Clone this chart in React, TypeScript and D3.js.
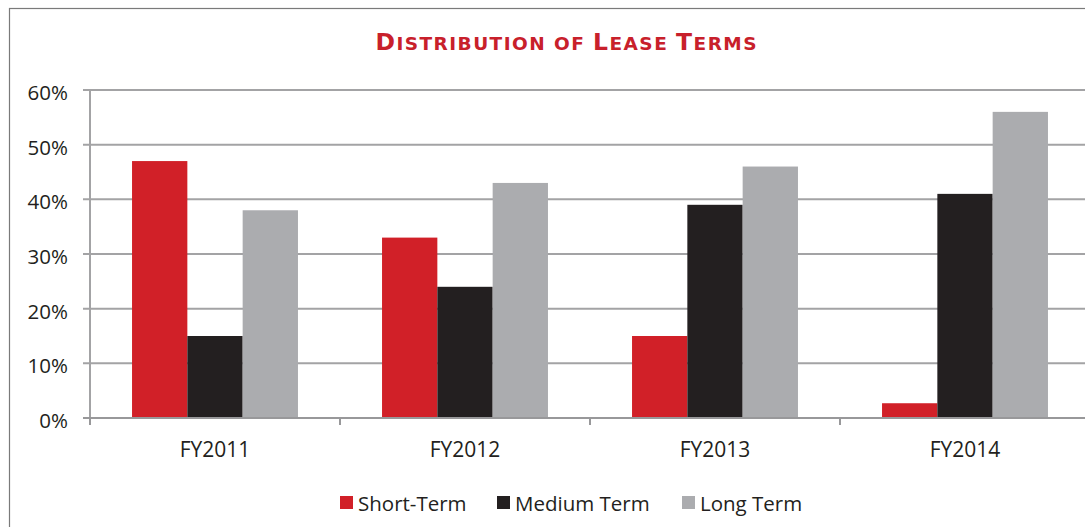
import * as d3 from "d3";

const categories = ["FY2011", "FY2012", "FY2013", "FY2014"];
const seriesNames = ["Short-Term", "Medium Term", "Long Term"];
const shortTerm = [0.47, 0.33, 0.15, 0.027];
const mediumTerm = [0.15, 0.24, 0.39, 0.41];
const longTerm = [0.38, 0.43, 0.46, 0.56];
const yTicks = [0, 0.1, 0.2, 0.3, 0.4, 0.5, 0.6];
const colors = ["#d12028", "#231f20", "#abacaf"];

const W = 1085;
const H = 527;
const font = "'Open Sans', sans-serif";

const App = () => {
  const values = [shortTerm, mediumTerm, longTerm];

  const x0 = d3.scaleBand().domain(categories).range([90, 1090]).paddingInner(0).paddingOuter(0);
  const x1 = d3.scaleBand().domain(seriesNames).range([0, x0.bandwidth()]).paddingInner(0).paddingOuter(0.76);
  const y = d3.scaleLinear().domain([0, 0.6]).range([418, 90]);
  const fmt = d3.format(".0%");

  const legendX = [340, 497, 682];

  return (
    <svg width={W} height={H} style={{ position: "absolute", left: 0, top: 0 }}>
      <rect x={0} y={0} width={W} height={H} fill="#fff" />
      {/* frame, runs off the right and bottom */}
      <rect x={9.5} y={8.5} width={1130} height={560} fill="none" stroke="#7a7a7a" strokeWidth={1.2} />

      <text
        x={566}
        y={50}
        textAnchor="middle"
        fill="#c8202b"
        fontFamily="'DejaVu Sans', Verdana, sans-serif"
        fontWeight="bold"
        textLength={381}
        lengthAdjust="spacing"
      >
        <tspan fontSize={23.5}>D</tspan>
        <tspan fontSize={18.5}>ISTRIBUTION OF </tspan>
        <tspan fontSize={23.5}>L</tspan>
        <tspan fontSize={18.5}>EASE </tspan>
        <tspan fontSize={23.5}>T</tspan>
        <tspan fontSize={18.5}>ERMS</tspan>
      </text>

      {/* gridlines + y ticks */}
      {yTicks.map((t) => (
        <g key={t}>
          <line x1={83} x2={W + 10} y1={y(t)} y2={y(t)} stroke="#a3a3a5" strokeWidth={2} />
          <text
            x={68}
            y={y(t) + 2}
            textAnchor="end"
            dominantBaseline="central"
            fontFamily={font}
            fontSize={20.5}
            fill="#231f20"
          >
            {fmt(t)}
          </text>
        </g>
      ))}
      <line x1={90} x2={90} y1={y(0.6)} y2={y(0) + 7} stroke="#a3a3a5" strokeWidth={2} />

      {/* bars */}
      {categories.map((c, i) => (
        <g key={c} transform={`translate(${x0(c)},0)`}>
          {seriesNames.map((s, j) => (
            <rect
              key={s}
              x={x1(s)}
              y={y(values[j][i])}
              width={x1.bandwidth()}
              height={y(0) - y(values[j][i])}
              fill={colors[j]}
            />
          ))}
        </g>
      ))}

      {/* x axis */}
      <line x1={83} x2={W + 10} y1={y(0)} y2={y(0)} stroke="#98989a" strokeWidth={2} />
      {[...categories.map((c) => x0(c) as number), 1090].map((tx) => (
        <line key={tx} x1={tx} x2={tx} y1={y(0)} y2={y(0) + 7} stroke="#98989a" strokeWidth={2} />
      ))}
      {categories.map((c) => (
        <text
          key={c}
          x={(x0(c) as number) + x0.bandwidth() / 2}
          y={457}
          textAnchor="middle"
          fontFamily={font}
          fontSize={21}
          fill="#231f20"
        >
          {c}
        </text>
      ))}

      {/* legend */}
      {seriesNames.map((s, j) => (
        <g key={s}>
          <rect x={legendX[j]} y={496} width={13} height={13} fill={colors[j]} />
          <text x={legendX[j] + 18} y={511} fontFamily={font} fontSize={20.5} fill="#231f20">
            {s}
          </text>
        </g>
      ))}
    </svg>
  );
};

export default App;
